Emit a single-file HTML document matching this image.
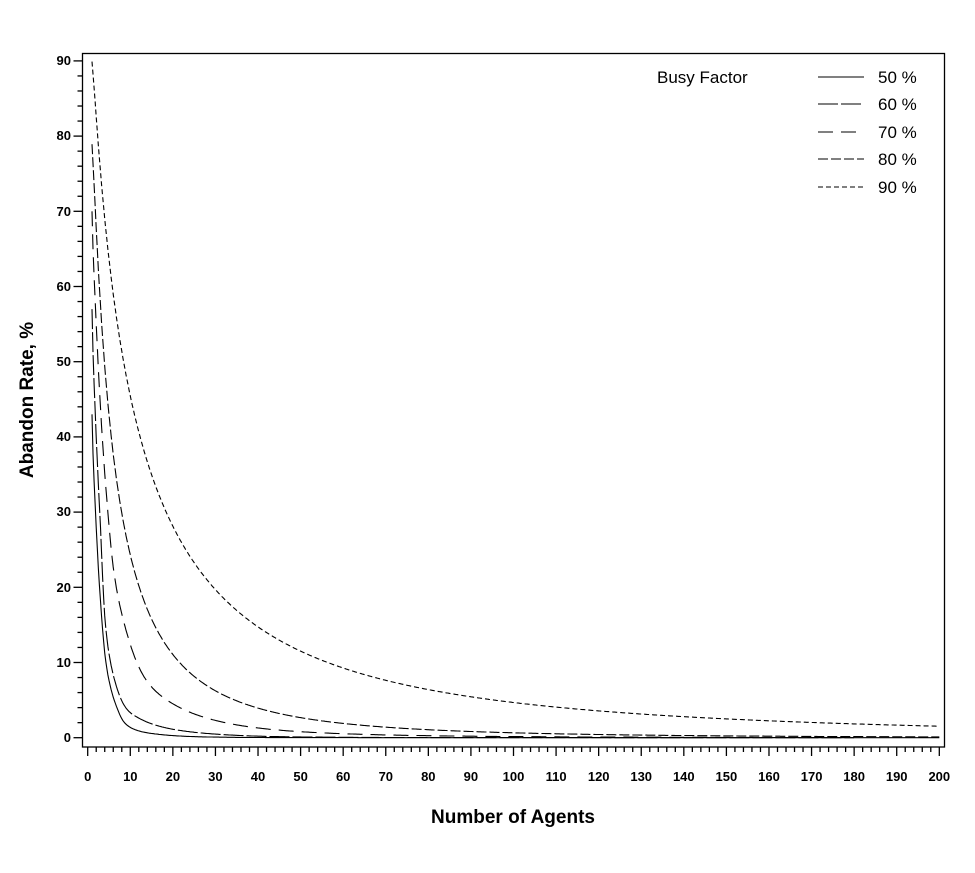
<!DOCTYPE html>
<html><head><meta charset="utf-8"><style>
html,body{margin:0;padding:0;background:#fff;}
svg text{font-family:"Liberation Sans",Arial,sans-serif;fill:#000;}
.t{font-size:13px;font-weight:bold;}
</style></head><body>
<svg id="s" width="975" height="868" viewBox="0 0 975 868" xmlns="http://www.w3.org/2000/svg">
<rect x="82.5" y="53.5" width="862" height="693.5" fill="none" stroke="#000" stroke-width="1.3"/>
<g id="ticks" stroke="#000" stroke-width="1.3"></g>
<g id="curves" fill="none" stroke="#000" stroke-width="1.1"></g>
<g class="t" text-anchor="end">
<text x="71" y="742">0</text>
<text x="71" y="667">10</text>
<text x="71" y="592">20</text>
<text x="71" y="516">30</text>
<text x="71" y="441">40</text>
<text x="71" y="366">50</text>
<text x="71" y="291">60</text>
<text x="71" y="216">70</text>
<text x="71" y="140">80</text>
<text x="71" y="65">90</text>
</g>
<g class="t" text-anchor="middle">
<text x="87.7" y="781">0</text>
<text x="130.3" y="781">10</text>
<text x="172.9" y="781">20</text>
<text x="215.4" y="781">30</text>
<text x="258" y="781">40</text>
<text x="300.6" y="781">50</text>
<text x="343.2" y="781">60</text>
<text x="385.8" y="781">70</text>
<text x="428.3" y="781">80</text>
<text x="470.9" y="781">90</text>
<text x="513.5" y="781">100</text>
<text x="556.1" y="781">110</text>
<text x="598.7" y="781">120</text>
<text x="641.2" y="781">130</text>
<text x="683.8" y="781">140</text>
<text x="726.4" y="781">150</text>
<text x="769" y="781">160</text>
<text x="811.6" y="781">170</text>
<text x="854.1" y="781">180</text>
<text x="896.7" y="781">190</text>
<text x="939.3" y="781">200</text>
</g>
<text x="513" y="823" text-anchor="middle" font-size="19" font-weight="bold">Number of Agents</text>
<text transform="translate(33,400) rotate(-90)" text-anchor="middle" font-size="19" font-weight="bold">Abandon Rate, %</text>
<text x="657" y="83" font-size="17">Busy Factor</text>
<g font-size="17">
<text x="878" y="83">50 %</text>
<text x="878" y="110">60 %</text>
<text x="878" y="138">70 %</text>
<text x="878" y="165">80 %</text>
<text x="878" y="193">90 %</text>
</g>
<g stroke="#000" stroke-width="1.1">
<line x1="818" y1="77" x2="864" y2="77"/>
<line x1="818" y1="104" x2="864" y2="104" stroke-dasharray="20 3"/>
<line x1="818" y1="132" x2="864" y2="132" stroke-dasharray="15 8"/>
<line x1="818" y1="159" x2="864" y2="159" stroke-dasharray="10 3"/>
<line x1="818" y1="187" x2="864" y2="187" stroke-dasharray="5 3"/>
</g>
</svg>
<script>
(function(){
function X(v){return 87.7+4.258*v;} function Y(v){return 737.7-7.52*v;}
var tk=document.getElementById("ticks"),h="";
for(var i=0;i<=100;i++){var x=X(i*2),L=(i%5==0)?9:5;h+='<line x1="'+x+'" y1="747" x2="'+x+'" y2="'+(747+L)+'"/>';}
for(var j=0;j<=45;j++){var y=Y(j*2),L2=(j%5==0)?9:5;h+='<line x1="'+(82.5-L2)+'" y1="'+y+'" x2="82.5" y2="'+y+'"/>';}
tk.innerHTML=h;
var data=[
["",0,[[1,43],[2,28],[3.1,17.4],[4.1,10.8],[6.8,4.1],[8.8,1.9],[12,0.9],[17.5,0.4],[30,0.08],[50,0.01],[200,0]]],
["20 3",0,[[1,57],[2,40],[3,28],[4.1,15.5],[6.5,7.3],[9.5,3.6],[12,2.6],[17.7,1.4],[29.5,0.5],[50,0.1],[80,0.02],[180,0]]],
["15 8",0,[[1,70],[2,55],[2.9,44.9],[4.5,31.6],[6,22.7],[9.2,13.9],[14.2,7.3],[21.3,4.1],[30,2.3],[53,0.7],[100,0.15],[180,0.02]]],
["10 3",1,[[1,79],[2,67],[2.9,58.2],[4.8,44.9],[6.4,36],[9.2,27.2],[13.1,18.3],[18.9,11.7],[26.8,7.3],[38.5,3.9],[60,2.0],[92,0.8],[140,0.3],[200,0.1]]],
["5 3",1,[[1,90],[2,82],[3.5,72],[6.4,58.2],[10.3,44.9],[17.4,31.6],[30.7,18.3],[46.3,12.6],[70,7.8],[92,5.3],[130,3.2],[200,1.5]]]
];
var E=0.02;
function mono(xs,ys){var n=xs.length,d=[],m=[];
 for(var k=0;k<n-1;k++)d.push((ys[k+1]-ys[k])/(xs[k+1]-xs[k]));
 m[0]=d[0];m[n-1]=d[n-2];
 for(k=1;k<n-1;k++){m[k]=(d[k-1]*d[k]<=0)?0:(3*(xs[k+1]-xs[k-1]))/((2*xs[k+1]-xs[k]-xs[k-1])/d[k-1]+(xs[k+1]+xs[k]-2*xs[k-1])/d[k]);}
 return function(x){for(var k=0;k<n-1&&x>xs[k+1];k++);if(k>=n-1)k=n-2;
  var hh=xs[k+1]-xs[k],t=(x-xs[k])/hh,t2=t*t,t3=t2*t;
  return (2*t3-3*t2+1)*ys[k]+(t3-2*t2+t)*hh*m[k]+(-2*t3+3*t2)*ys[k+1]+(t3-t2)*hh*m[k+1];};}
function polyfit(xs,ys,deg){var n=deg+1,A=[],b=[],r,c,k;
 for(r=0;r<n;r++){A.push([]);b.push(0);for(c=0;c<n;c++)A[r].push(0);}
 for(k=0;k<xs.length;k++){for(r=0;r<n;r++){b[r]+=ys[k]*Math.pow(xs[k],r);for(c=0;c<n;c++)A[r][c]+=Math.pow(xs[k],r+c);}}
 for(r=0;r<n;r++){var p=r;for(k=r+1;k<n;k++)if(Math.abs(A[k][r])>Math.abs(A[p][r]))p=k;
  var t=A[r];A[r]=A[p];A[p]=t;t=b[r];b[r]=b[p];b[p]=t;
  for(k=r+1;k<n;k++){var f=A[k][r]/A[r][r];for(c=r;c<n;c++)A[k][c]-=f*A[r][c];b[k]-=f*b[r];}}
 var co=[];for(r=n-1;r>=0;r--){var s=b[r];for(c=r+1;c<n;c++)s-=A[r][c]*co[c];co[r]=s/A[r][r];}
 return function(x){var s=0;for(var q=0;q<n;q++)s+=co[q]*Math.pow(x,q);return s;};}
var g=document.getElementById("curves"),c="";
data.forEach(function(d){var p=d[2];
 var xs=p.map(function(q){return Math.log(q[0]);}),ys=p.map(function(q){return Math.log(q[1]+E);});
 var f=d[1]?polyfit(xs,ys,3):mono(xs,ys),s="",x0=p[0][0],x1=p[p.length-1][0];
 for(var x=x0;x<=x1+1e-9;x+=0.25){var v=Math.exp(f(Math.log(x)))-E;if(v<0)v=0;
  s+=(s?"L":"M")+X(x).toFixed(1)+","+Y(v).toFixed(1);}
 c+='<path d="'+s+'"'+(d[0]?' stroke-dasharray="'+d[0]+'"':'')+'/>';});
g.innerHTML=c;
})();
</script>
</body></html>
